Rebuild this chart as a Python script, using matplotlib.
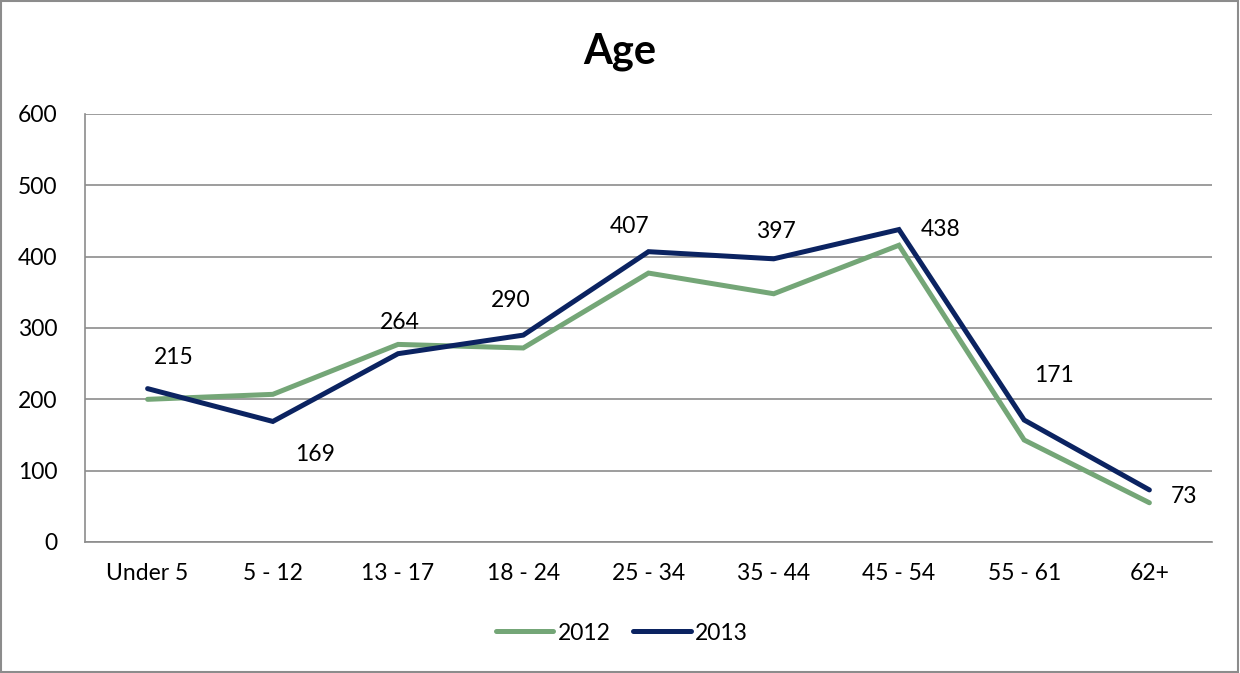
import matplotlib
matplotlib.use("Agg")
import matplotlib.pyplot as plt
from matplotlib.patches import Rectangle

categories = ["Under 5", "5 - 12", "13 - 17", "18 - 24", "25 - 34", "35 - 44", "45 - 54", "55 - 61", "62+"]
values_2012 = [200, 207, 277, 272, 377, 348, 416, 143, 55]
values_2013 = [215, 169, 264, 290, 407, 397, 438, 171, 73]
yticks = [0, 100, 200, 300, 400, 500, 600]

# label offsets in pixels (style only)
label_offsets = [(26, 31), (42, -33), (2, 31), (-13, 35), (-19, 25), (2, 27), (42, 0), (30, 45), (35, -7)]

plt.rcParams['font.family'] = ['Lato', 'DejaVu Sans']

fig = plt.figure(figsize=(12.4, 6.73), dpi=100)
ax = fig.add_axes([85/1240, 131/673, 1127/1240, 428/673])

x = list(range(len(categories)))
c2012 = "#74A677"
c2013 = "#0B2361"
ax.plot(x, values_2012, color=c2012, lw=3.6, label="2012", solid_capstyle='round', solid_joinstyle='miter')
ax.plot(x, values_2013, color=c2013, lw=3.6, label="2013", solid_capstyle='round', solid_joinstyle='miter')

for xi, v, off in zip(x, values_2013, label_offsets):
    ax.annotate(str(v), (xi, v), xytext=off, textcoords='offset pixels',
                ha='center', va='center', fontsize=16.5, color='black')

ax.set_xlim(-0.5, len(categories) - 0.5)
ax.set_ylim(0, 600)
ax.set_yticks(yticks)
ax.set_xticks(x)
ax.set_xticklabels(categories)
ax.tick_params(axis='both', length=0, labelsize=16.5, colors='black')
ax.tick_params(axis='y', pad=20)
ax.tick_params(axis='x', pad=15)
ax.yaxis.grid(True, color='#8C8C8C', lw=1.2)
ax.set_axisbelow(True)
for s in ['top', 'right']:
    ax.spines[s].set_visible(False)
ax.spines['left'].set_color('#8C8C8C')
ax.spines['left'].set_linewidth(1.2)
ax.spines['bottom'].set_color('#8C8C8C')
ax.spines['bottom'].set_linewidth(1.2)

fig.text(620/1240, 1 - 52/673, "Age", ha='center', va='center', fontsize=30, fontweight='bold')

leg = fig.legend(loc='center', bbox_to_anchor=(622/1240, 1 - 633/673), ncol=2, frameon=False,
                 fontsize=16.5, handlelength=2.5, handletextpad=0.2, columnspacing=1.0)

fig.add_artist(Rectangle((0.001, 0.001), 0.997, 0.997, transform=fig.transFigure,
                         fill=False, edgecolor='#8C8C8C', lw=1.5))

fig.savefig("out.png", dpi=100)
